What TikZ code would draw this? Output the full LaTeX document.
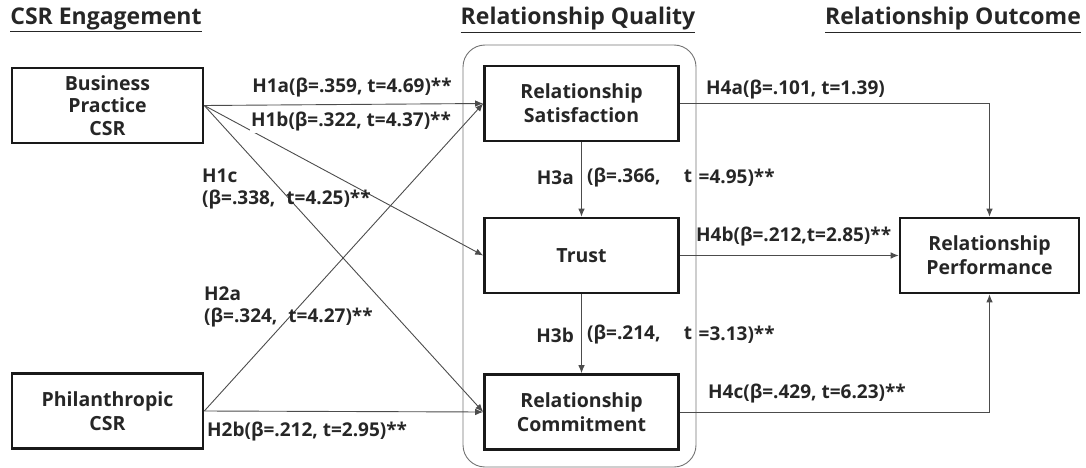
\documentclass[tikz,border=0pt]{standalone}
\usepackage{fontspec}
\setmainfont{Open Sans}
\usetikzlibrary{arrows.meta,positioning}

\tikzset{
  factor/.style={draw=black!90, line width=2.6pt, align=center, inner sep=0pt,
    minimum width=194pt, minimum height=75pt,
    font=\bfseries\fontsize{19.5}{24}\selectfont, text=black!85},
  link/.style={draw=black!70, line width=0.9pt, -{Latex[length=8pt,width=6.5pt]}},
  coef/.style={inner sep=1pt, font=\bfseries\fontsize{19}{22}\selectfont, text=black!85},
  heading/.style={inner sep=0pt, font=\bfseries\fontsize{23}{26}\selectfont, text=black!85},
}

\begin{document}
\begin{tikzpicture}[x=1pt, y=-1pt]
      \useasboundingbox (0,0) rectangle (1086,468);
      % headings
      \node[heading] (hcsr) at (106,20) {\underline{CSR Engagement}};
      \node[heading] (hrq) at (578,20) {\underline{Relationship Quality}};
      \node[heading] (hro) at (953,20) {\underline{Relationship Outcome}};
      % quality group
      \draw[black!55, line width=0.9pt, rounded corners=22pt] (463,45) rectangle (696,467);
      % constructs
      \node[factor, minimum width=191pt, font=\bfseries\fontsize{19.5}{22.5}\selectfont] (bpc) at (107.5,105.5) {Business\\Practice\\CSR};
      \node[factor, minimum width=191pt] (phc) at (107.5,411) {Philanthropic\\CSR};
      \node[factor] (sat) at (581.5,103.5) {Relationship\\Satisfaction};
      \node[factor] (tru) at (581.5,255.5) {Trust};
      \node[factor] (com) at (581.5,412) {Relationship\\Commitment};
      \node[factor, minimum width=179pt] (per) at (989.5,255.5) {Relationship\\Performance};
      % paths
      \draw[link] (bpc.east) -- (sat.west);
      \draw[link] (bpc.east) -- (tru.west);
      \draw[link] (bpc.east) -- (com.west);
      \draw[link] (phc.east) -- (sat.west);
      \draw[link] (phc.east) -- (com.west);
      \draw[link] (sat) -- (tru);
      \draw[link] (tru) -- (com);
      \draw[link] (sat.east) -| (per.north);
      \draw[link] (tru.east) -- (per.west);
      \draw[link] (com.east) -| (per.south);
      % coefficients
      \node[coef] (lh1a) at (352,88) {H1a(β=.359, t=4.69)**};
      \node[coef, fill=white] (lh1b) at (351,122) {H1b(β=.322, t=4.37)**};
      \node[coef, anchor=west, align=left] (lh1c) at (201,189) {H1c\\(β=.338,\hspace{11pt}t=4.25)**};
      \node[coef, anchor=west, align=left] (lh2a) at (203,307) {H2a\\(β=.324,\hspace{11pt}t=4.27)**};
      \node[coef, anchor=west] (lh2b) at (206,432) {H2b(β=.212, t=2.95)**};
      \node[coef, anchor=east] (lh3a) at (575,178) {H3a};
      \node[coef, anchor=west, text width=105pt] (lh3av) at (586,178) {(β=.366,\hfill t};
      \node[coef, anchor=west] (lh3ae) at (697.5,178) {=4.95)**};
      \node[coef, anchor=east] (lh3b) at (575,335) {H3b};
      \node[coef, anchor=west, text width=105pt] (lh3bv) at (586,335) {(β=.214,\hfill t};
      \node[coef, anchor=west] (lh3be) at (697.5,335) {=3.13)**};
      \node[coef, anchor=west] (lh4a) at (705,90) {H4a(β=.101, t=1.39)};
      \node[coef, anchor=west] (lh4b) at (695,237) {H4b(β=.212,t=2.85)**};
      \node[coef, anchor=west] (lh4c) at (707,394) {H4c(β=.429, t=6.23)**};
\end{tikzpicture}
\end{document}
